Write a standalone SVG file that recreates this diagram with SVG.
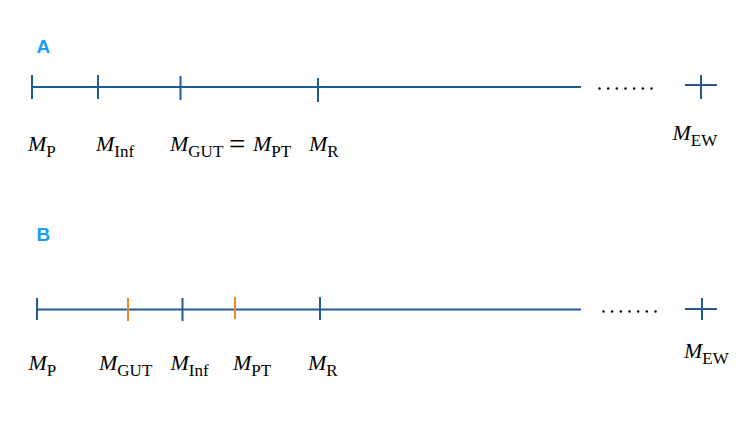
<svg xmlns="http://www.w3.org/2000/svg" width="756" height="442" viewBox="0 0 756 442">
<style>
.ax{stroke:#1f5c96;stroke-width:2;fill:none}
.tk{stroke:#1f5c96;stroke-width:2}
.to{stroke:#f0862a;stroke-width:2}
.lab{font-family:"Liberation Sans",Arial,sans-serif;font-weight:bold;font-size:19px;fill:#1a9cf6}
.t{font-family:"Liberation Serif","Times New Roman",serif;font-size:22px;fill:#000}
.m{font-style:italic}
.s{font-size:17px}
.eq{font-size:29px}
.dots circle{fill:#000}
</style>
<defs>
<g id="dots7">
<circle cx="0" cy="0" r="1.2"/><circle cx="8.67" cy="0" r="1.2"/><circle cx="17.33" cy="0" r="1.2"/><circle cx="26" cy="0" r="1.2"/><circle cx="34.67" cy="0" r="1.2"/><circle cx="43.33" cy="0" r="1.2"/><circle cx="52" cy="0" r="1.2"/>
</g>
</defs>
<rect width="756" height="442" fill="#fff"/>
<g id="panelA">
<text class="lab" x="36.5" y="52.5">A</text>
<g id="connectorsA">
<line class="ax" x1="32" y1="87" x2="581" y2="87"/>
<g class="dots"><use href="#dots7" x="599.5" y="88.5"/></g>
</g>
<g id="A_MP"><line class="tk" x1="32" y1="75" x2="32" y2="99"/><text class="t" x="28" y="151"><tspan class="m">M</tspan><tspan class="s" dy="6">P</tspan></text></g>
<g id="A_MInf"><line class="tk" x1="98" y1="75" x2="98" y2="99"/><text class="t" x="96" y="151"><tspan class="m">M</tspan><tspan class="s" dy="6">Inf</tspan></text></g>
<g id="A_MGUT"><line class="tk" x1="180.5" y1="76" x2="180.5" y2="100"/><text class="t" x="170" y="151"><tspan class="m">M</tspan><tspan class="s" dy="6">GUT</tspan><tspan class="eq" x="229" dy="-3.5">=</tspan><tspan class="m" x="253" dy="-2.5">M</tspan><tspan class="s" dy="6">PT</tspan></text></g>
<g id="A_MR"><line class="tk" x1="318" y1="78" x2="318" y2="102"/><text class="t" x="309" y="151"><tspan class="m">M</tspan><tspan class="s" dy="6">R</tspan></text></g>
<g id="A_MEW"><line class="tk" x1="685" y1="85" x2="717" y2="85"/><line class="tk" x1="701" y1="75" x2="701" y2="99"/><text class="t" x="672.5" y="140"><tspan class="m">M</tspan><tspan class="s" dy="6">EW</tspan></text></g>
</g>
<g id="panelB">
<text class="lab" x="36.5" y="240.5">B</text>
<g id="connectorsB">
<line class="ax" x1="37" y1="309.5" x2="581" y2="309.5"/>
<g class="dots"><use href="#dots7" x="603.5" y="311.5"/></g>
</g>
<g id="B_MP"><line class="tk" x1="37" y1="298" x2="37" y2="320"/><text class="t" x="28.5" y="370"><tspan class="m">M</tspan><tspan class="s" dy="6">P</tspan></text></g>
<g id="B_MGUT"><line class="to" x1="128" y1="298" x2="128" y2="321"/><text class="t" x="99" y="370"><tspan class="m">M</tspan><tspan class="s" dy="6">GUT</tspan></text></g>
<g id="B_MInf"><line class="tk" x1="182.5" y1="298" x2="182.5" y2="321"/><text class="t" x="170.5" y="370"><tspan class="m">M</tspan><tspan class="s" dy="6">Inf</tspan></text></g>
<g id="B_MPT"><line class="to" x1="235" y1="297" x2="235" y2="319"/><text class="t" x="233" y="370"><tspan class="m">M</tspan><tspan class="s" dy="6">PT</tspan></text></g>
<g id="B_MR"><line class="tk" x1="320" y1="297" x2="320" y2="320"/><text class="t" x="308" y="370"><tspan class="m">M</tspan><tspan class="s" dy="6">R</tspan></text></g>
<g id="B_MEW"><line class="tk" x1="685" y1="309" x2="717" y2="309"/><line class="tk" x1="702" y1="298" x2="702" y2="320"/><text class="t" x="684" y="358"><tspan class="m">M</tspan><tspan class="s" dy="6">EW</tspan></text></g>
</g>
</svg>
